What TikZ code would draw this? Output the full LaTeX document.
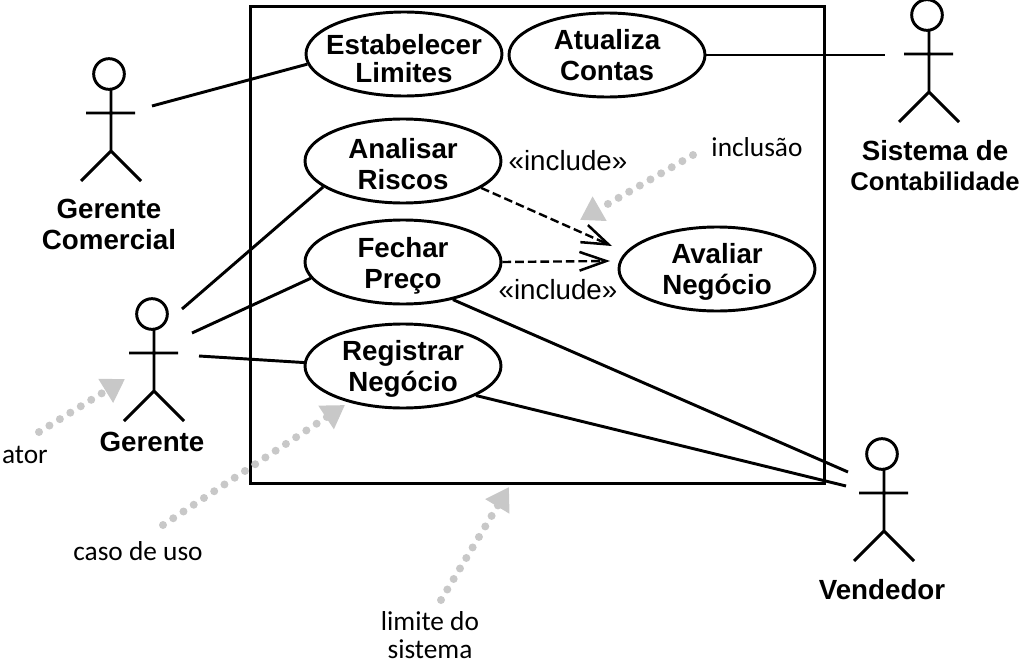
\documentclass[tikz,border=0pt]{standalone}
\usepackage{fontspec}
\usepackage{xcolor}
\usepackage{tikz}
\usetikzlibrary{positioning,arrows.meta,shapes.geometric}
\setmainfont{Liberation Sans}
\newfontfamily\notefont{Carlito}
\definecolor{notegray}{RGB}{200,200,200}
\tikzset{
  ucase/.style   = {draw, ellipse, line width=2.2pt, align=center, font=\bfseries\fontsize{20.8}{23}\selectfont, inner sep=-10pt, minimum width=147pt, minimum height=63pt},
  head/.style    = {draw, circle, line width=2.2pt, inner sep=0pt, minimum size=23pt},
  stick/.style   = {line width=2.2pt},
  aname/.style   = {align=center, inner sep=0pt, font=\bfseries\fontsize{20.8}{23}\selectfont},
  assoc/.style   = {line width=2.2pt},
  incl/.style    = {line width=1.8pt, dash pattern=on 6.5pt off 3pt, -{Straight Barb[length=20pt,width=14pt,line width=1.9pt]}},
  stereo/.style  = {inner sep=0pt, font=\fontsize{20.8}{23}\selectfont},
  note/.style    = {inner sep=0pt, align=center, font=\notefont\fontsize{20.5}{21}\selectfont},
  pointer/.style = {notegray, line width=6pt, line cap=round, dash pattern=on 0pt off 9.2pt, -{Triangle[length=17pt,width=20pt]}},
}
\newcommand{\actorbody}[1]{\draw[stick, shift={(#1)}] (2,15) -- (2,77) (-23,39) -- (26,39) (-28,107) -- (2,77) -- (32,107);}
\newcommand{\dropline}[1]{\rule{0pt}{#1}}

\begin{document}
\begin{tikzpicture}[x=0.75pt,y=-0.75pt]
  \useasboundingbox (0,0) rectangle (1021,660);
  \node[draw, line width=2.2pt, minimum width=431pt, minimum height=358pt, inner sep=0pt] (sys) at (537.5,245) {};

  \node[ucase] (est) at (404,54) {\dropline{22.5pt}Estabelecer\\[-2pt]Limites};
  \node[ucase] (atu) at (607,55) {Atualiza\\Contas};
  \node[ucase] (ana) at (403,161) {\dropline{19.5pt}Analisar\\Riscos};
  \node[ucase] (fec) at (403,262) {\dropline{21pt}Fechar\\Preço};
  \node[ucase] (reg) at (403,366) {\dropline{19.5pt}Registrar\\Negócio};
  \node[ucase] (ava) at (717,269) {\dropline{19.5pt}Avaliar\\Negócio};

  \node[head] (gc) at (109,74) {};
  \node[head] (sc) at (927,15) {};
  \node[head] (ge) at (152,314) {};
  \node[head] (ve) at (882,454) {};
  \actorbody{gc}
  \actorbody{sc}
  \actorbody{ge}
  \actorbody{ve}
  \node[aname, below=81pt of gc] (gcname) {Gerente\\Comercial};
  \node[aname, below=81pt of sc, xshift=6pt] (scname) {Sistema de\\{\fontsize{19.2}{23}\selectfont Contabilidade}};
  \node[aname, below=76pt of ge] (gename) {Gerente};
  \node[aname, below=81pt of ve] (vename) {Vendedor};

  \coordinate (gcend) at (152,106);
  \coordinate (scend) at (885,55);
  \coordinate (geend1) at (182,309);
  \coordinate (geend2) at (192,333);
  \coordinate (geend3) at (199,356);
  \coordinate (veend1) at (848,472);
  \coordinate (veend2) at (846,486);
  \draw[assoc] (gcend) -- (est.186);
  \draw[assoc] (atu.east) -- (scend);
  \draw[assoc] (geend1) -- (ana.198);
  \draw[assoc] (geend2) -- (fec.190);
  \draw[assoc] (geend3) -- (reg.178);
  \draw[assoc] (fec.-37) -- (veend1);
  \draw[assoc] (reg.-22) -- (veend2);

  \coordinate (inctip1) at (612,246);
  \coordinate (inctip2) at (610,261);
  \draw[incl] (ana.-19) -- (inctip1);
  \draw[incl] (fec.east) -- (inctip2);
  \node[stereo] (inc1) at (568,161) {«include»};
  \node[stereo] (inc2) at (558,290) {«include»};

  \node[note, anchor=east] (nator) at (48,455) {ator};
  \node[note] (ncaso) at (138,551) {caso de uso};
  \node[note] (nlimite) at (430,635) {limite do\\sistema};
  \node[note] (ninc) at (757,147) {inclusão};

  \coordinate (ps1) at (39,432);
  \coordinate (pe1) at (125,379);
  \coordinate (ps2) at (163,525);
  \coordinate (pe2) at (345,405);
  \coordinate (ps3) at (441,600);
  \coordinate (pe3) at (509,487);
  \coordinate (ps4) at (693,155);
  \coordinate (pe4) at (580,220);
  \draw[pointer] (ps1) -- (pe1);
  \draw[pointer] (ps2) -- (pe2);
  \draw[pointer] (ps3) -- (pe3);
  \draw[pointer] (ps4) -- (pe4);
\end{tikzpicture}
\end{document}
